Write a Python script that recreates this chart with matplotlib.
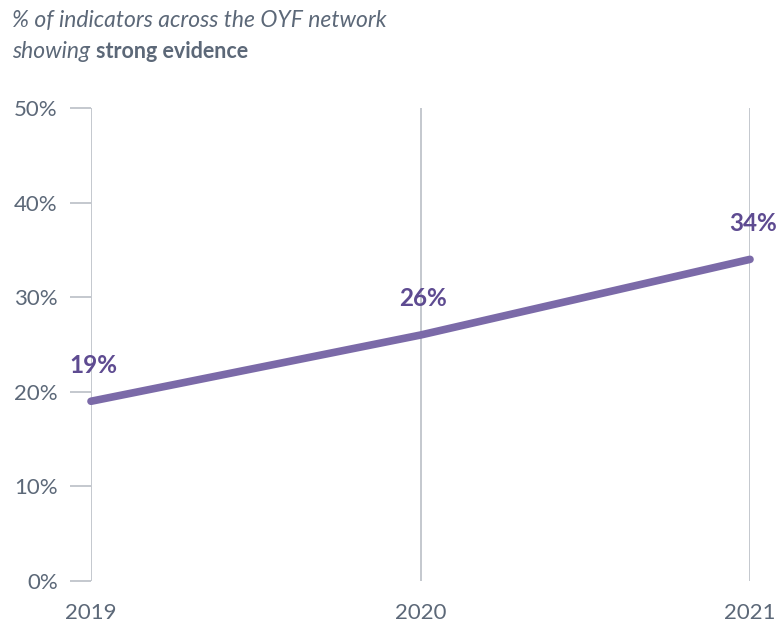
import matplotlib
matplotlib.use("Agg")
import matplotlib.pyplot as plt
from matplotlib.ticker import FuncFormatter

years = [2019, 2020, 2021]
strong_pct = [19, 26, 34]
y_ticks = [0, 10, 20, 30, 40, 50]

LINE = "#7b6aa8"
LABEL = "#5e4b91"
GREY = "#b4b9c1"
TEXT = "#5c6878"

plt.rcParams['font.family'] = ['Lato', 'DejaVu Sans']

fig = plt.figure(figsize=(7.81, 6.29), dpi=100)
ax = fig.add_axes([91/781, 48/629, (750-91)/781, (581-108)/629])

# lignes verticales pour chaque année
for yr in years:
    ax.axvline(yr, color=GREY, lw=1.1, zorder=1)

ax.plot(years, strong_pct, color=LINE, lw=5.5, solid_capstyle='round', zorder=3, clip_on=False)

for yr, v in zip(years, strong_pct):
    ax.annotate(f"{v}%", (yr, v), xytext=(2, 26), textcoords='offset points',
                ha='center', va='center', fontsize=17.5, fontweight='bold', color=LABEL)

ax.set_xlim(2019, 2021)
ax.set_ylim(0, 50)
ax.set_yticks(y_ticks)
ax.yaxis.set_major_formatter(FuncFormatter(lambda v, p: f"{int(v)}%"))
ax.set_xticks(years)
ax.set_xticklabels([str(y) for y in years])

for s in ax.spines.values():
    s.set_visible(False)
ax.tick_params(axis='y', length=15, width=1.1, color=GREY, pad=9, labelsize=16, labelcolor=TEXT)
ax.tick_params(axis='x', length=0, pad=16, labelsize=16, labelcolor=TEXT)

# titre en deux parties
t1 = fig.text(12/781, 1 - 20/629, "% of indicators across the OYF network", fontsize=16.5,
              style='italic', color=TEXT, va='center')
t2 = fig.text(12/781, 1 - 51/629, "showing ", fontsize=16.5, style='italic', color=TEXT,
              va='center')
fig.canvas.draw()
bb = t2.get_window_extent()
fig.text(bb.x1 / fig.bbox.width, 1 - 51/629, "strong evidence", fontsize=15.5,
         fontweight='bold', color=TEXT, va='center')

fig.savefig("out.png", dpi=100)
